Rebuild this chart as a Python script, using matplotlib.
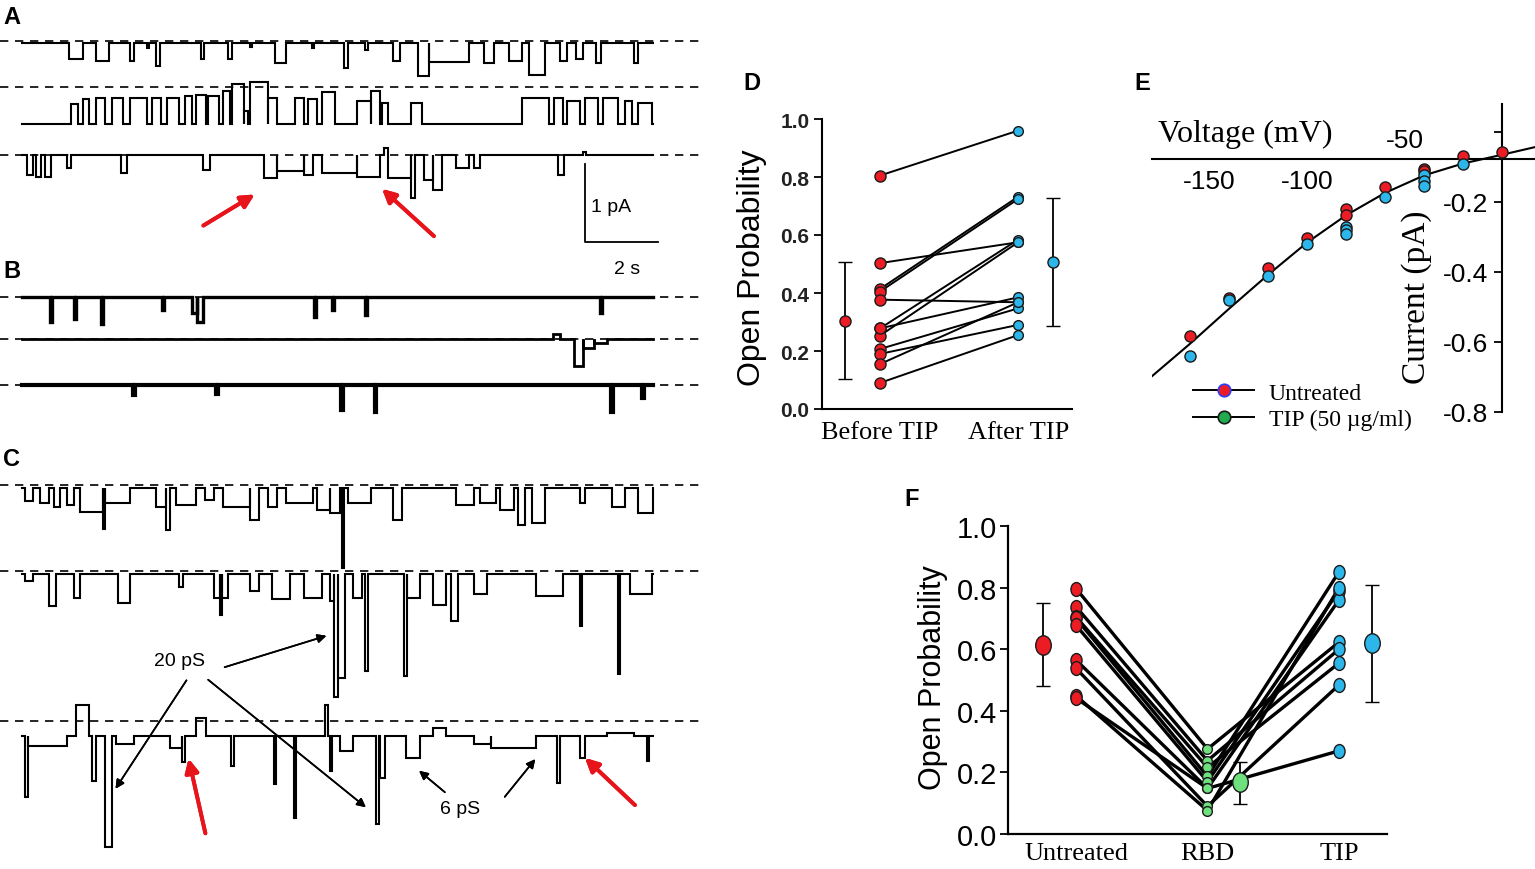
import numpy as np
import matplotlib
matplotlib.use("Agg")
import matplotlib.pyplot as plt
from matplotlib.lines import Line2D
from matplotlib.markers import MarkerStyle
from matplotlib.transforms import Affine2D

W, H = 1535, 870
SANS = "Liberation Sans"
SERIF = "Liberation Serif"
RED = "#ec1c24"
BLUE = "#2cb6ea"
GREEN = "#6ee07e"
EDGE = "#1a1a1a"

# ---- single-channel records: events as (start s, end s, level pA) ----
# closed level of each trace (pA, relative to its dashed line)
base_a = [-0.02, -0.47, 0.0]
base_b = [0.0, 0.0, 0.0]
base_c = [-0.04, -0.04, -0.19]

events_a1 = [(1.29, 1.66, -0.235), (2.03, 2.39, -0.256), (2.95, 3.07, -0.256),
             (3.43, 3.49, -0.09), (3.68, 3.78, -0.32), (4.90, 4.99, -0.235),
             (5.64, 5.76, -0.235), (6.25, 6.31, -0.08), (6.92, 7.23, -0.278),
             (7.95, 8.01, -0.09), (8.82, 8.92, -0.34), (9.40, 9.47, -0.11),
             (10.17, 10.35, -0.256), (10.84, 11.14, -0.45), (11.14, 12.25, -0.27),
             (12.67, 12.92, -0.28), (13.35, 13.71, -0.256), (13.90, 14.32, -0.43),
             (14.75, 14.94, -0.256), (15.18, 15.37, -0.235), (15.73, 15.85, -0.28),
             (16.77, 16.89, -0.28)]
events_a2 = [(1.35, 1.54, -0.22), (1.66, 1.84, -0.16), (2.03, 2.27, -0.14),
             (2.46, 2.76, -0.14), (2.95, 3.43, -0.14), (3.56, 3.80, -0.14),
             (3.98, 4.29, -0.14), (4.47, 4.66, -0.12), (4.78, 5.03, -0.10),
             (5.09, 5.39, -0.12), (5.52, 5.70, -0.05), (5.76, 6.07, 0.04),
             (6.07, 6.19, -0.31), (6.25, 6.74, 0.07), (6.74, 6.98, -0.14),
             (7.47, 7.72, -0.14), (7.84, 8.08, -0.16), (8.21, 8.57, -0.07),
             (9.19, 9.55, -0.18), (9.55, 9.80, -0.05), (9.86, 10.04, -0.20),
             (10.65, 10.96, -0.20), (13.71, 14.45, -0.14), (14.57, 14.81, -0.14),
             (14.94, 15.30, -0.18), (15.43, 15.79, -0.14), (15.92, 16.34, -0.14),
             (16.53, 16.71, -0.18), (16.89, 17.26, -0.20)]
events_a3 = [(0.13, 0.31, -0.26), (0.38, 0.52, -0.28), (0.62, 0.80, -0.28),
             (1.23, 1.35, -0.17), (2.70, 2.88, -0.235), (4.96, 5.15, -0.19),
             (6.62, 6.98, -0.30), (6.98, 7.72, -0.21), (7.72, 7.96, -0.26),
             (8.21, 9.19, -0.235), (9.19, 9.80, -0.28), (9.92, 10.02, 0.085),
             (10.04, 10.65, -0.30), (10.65, 10.78, -0.55), (11.02, 11.27, -0.32),
             (11.27, 11.51, -0.45), (11.88, 12.24, -0.17), (12.37, 12.55, -0.17),
             (14.69, 14.84, -0.26), (15.37, 15.45, 0.04)]

events_b1 = [(0.78, 0.83, -0.32), (1.43, 1.48, -0.28), (2.17, 2.22, -0.35),
             (3.84, 3.89, -0.17), (4.66, 4.80, -0.20), (4.80, 4.96, -0.32),
             (8.00, 8.05, -0.26), (8.49, 8.54, -0.17), (9.41, 9.46, -0.235),
             (15.83, 15.88, -0.21)]
events_b2 = [(14.55, 14.73, 0.06), (15.12, 15.36, -0.34), (15.36, 15.67, -0.11),
             (15.67, 16.04, -0.05)]
events_b3 = [(3.05, 3.10, -0.13), (5.31, 5.36, -0.11), (8.74, 8.79, -0.32),
             (9.66, 9.71, -0.34), (16.14, 16.20, -0.35), (17.00, 17.05, -0.17)]

events_c1 = [(0.07, 0.31, -0.21), (0.50, 0.74, -0.235), (0.87, 1.05, -0.28),
             (1.23, 1.42, -0.26), (1.60, 2.21, -0.34), (2.21, 2.28, -0.56),
             (2.28, 2.95, -0.235), (3.68, 3.95, -0.28), (3.95, 4.05, -0.58),
             (4.23, 4.78, -0.26), (5.02, 5.27, -0.19), (5.52, 6.25, -0.28),
             (6.25, 6.49, -0.45), (6.74, 6.98, -0.28), (7.23, 7.96, -0.235),
             (8.08, 8.45, -0.32), (8.45, 8.72, -0.36), (8.76, 8.83, -1.07),
             (8.94, 9.55, -0.235), (10.17, 10.41, -0.45), (11.88, 12.37, -0.26),
             (12.55, 12.98, -0.235), (13.10, 13.47, -0.32), (13.59, 13.77, -0.51),
             (13.96, 14.32, -0.49), (15.30, 15.43, -0.235), (16.16, 16.53, -0.28),
             (16.89, 17.30, -0.36)]
events_c2 = [(0.07, 0.31, -0.13), (0.74, 0.93, -0.45), (1.42, 1.60, -0.34),
             (2.64, 2.95, -0.41), (4.29, 4.41, -0.21), (5.27, 5.43, -0.34),
             (5.43, 5.49, -0.56), (5.49, 5.64, -0.34), (6.25, 6.49, -0.26),
             (6.86, 7.35, -0.36), (7.72, 8.21, -0.34), (8.45, 8.55, -0.38),
             (8.55, 8.67, -1.62), (8.67, 8.84, -1.37), (9.06, 9.31, -0.34),
             (9.40, 9.48, -1.28), (10.47, 10.55, -1.35), (10.55, 10.90, -0.34),
             (11.27, 11.63, -0.43), (11.76, 11.94, -0.64), (12.37, 12.73, -0.30),
             (14.08, 14.81, -0.32), (15.28, 15.35, -0.71), (16.32, 16.39, -1.32),
             (16.65, 17.26, -0.30)]
events_c3 = [(0.07, 0.16, -0.98), (0.16, 1.23, -0.32), (1.48, 1.84, 0.21),
             (1.91, 2.03, -0.77), (2.27, 2.46, -1.62), (2.58, 3.07, -0.30),
             (4.05, 4.39, -0.34), (4.39, 4.46, -0.53), (4.78, 5.03, 0.04),
             (5.73, 5.81, -0.58), (6.90, 6.97, -0.81), (7.45, 7.52, -1.24),
             (8.30, 8.38, 0.21), (8.43, 8.50, -0.64), (8.70, 9.06, -0.38),
             (9.71, 9.79, -1.32), (9.80, 9.94, -0.73), (10.53, 10.90, -0.47),
             (11.27, 11.63, -0.085), (12.37, 12.86, -0.30), (12.86, 14.08, -0.34),
             (14.67, 14.74, -0.79), (15.30, 15.43, -0.47), (16.04, 16.77, -0.15),
             (17.11, 17.19, -0.51)]

# ---- D: open probability before / after TIP ----
d_before = [0.805, 0.503, 0.414, 0.405, 0.377, 0.278, 0.253, 0.278, 0.207, 0.19, 0.155, 0.09]
d_after = [0.96, 0.575, 0.732, 0.724, 0.368, 0.584, 0.575, 0.385, 0.347, 0.29, 0.368, 0.255]
d_mean = [0.302, 0.506]
d_low = [0.103, 0.285]
d_high = [0.506, 0.728]
d_labels = ["Before TIP", "After TIP"]

# ---- E: I-V relation ----
e_volt_u = [-160, -140, -120, -100, -80, -80, -60, -40, -40, -20, 0]
e_cur_u = [-0.583, -0.474, -0.389, -0.303, -0.22, -0.237, -0.157, -0.105, -0.111, -0.068, -0.057]
e_volt_t = [-160, -140, -120, -100, -80, -80, -80, -60, -40, -40, -40, -20]
e_cur_t = [-0.64, -0.48, -0.41, -0.32, -0.27, -0.28, -0.29, -0.186, -0.123, -0.14, -0.154, -0.091]
e_volt_fit = [-180, -160, -140, -120, -100, -80, -60, -40, -20, 0, 17]
e_cur_fit = [-0.70, -0.605, -0.505, -0.408, -0.316, -0.238, -0.174, -0.124, -0.09, -0.065, -0.043]

# ---- F: untreated / RBD / TIP ----
f_untreated = [0.797, 0.738, 0.705, 0.700, 0.678, 0.565, 0.538, 0.449, 0.441]
f_rbd = [0.276, 0.238, 0.216, 0.187, 0.170, 0.148, 0.090, 0.076, 0.148]
f_tip = [0.623, 0.600, 0.555, 0.851, 0.790, 0.760, 0.484, 0.800, 0.270]
f_mean = [0.613, 0.169, 0.62]
f_low = [0.479, 0.097, 0.428]
f_high = [0.749, 0.234, 0.808]
f_labels = ["Untreated", "RBD", "TIP"]


def rect(l, t, r, b):
    return [l / W, (H - b) / H, (r - l) / W, (b - t) / H]


def fxy(x, y):
    return (x / W, 1 - y / H)


def step_trace(events, base, t_end=17.3):
    ts, ys = [0.0], [base]
    for t0, t1, lvl in sorted(events):
        ts += [t0, t0, t1, t1]
        ys += [base, lvl, lvl, base]
    ts.append(t_end)
    ys.append(base)
    return np.array(ts), np.array(ys)


fig = plt.figure(figsize=(W / 100, H / 100), dpi=100)

# ---------------- traces A, B, C ----------------
PX_PER_S, PX_PER_PA = 36.5, 78.0
ax_tr = fig.add_axes(rect(0, 0, 700, 870))
ax_tr.set_xlim(-22 / PX_PER_S, (700 - 22) / PX_PER_S)
ax_tr.set_ylim(-H / PX_PER_PA, 0)
ax_tr.axis("off")

rows = [(42, events_a1, base_a[0], 1.5), (88, events_a2, base_a[1], 1.5),
        (156, events_a3, base_a[2], 1.5),
        (298, events_b1, base_b[0], 2.4), (340, events_b2, base_b[1], 2.0),
        (386, events_b3, base_b[2], 3.0),
        (486, events_c1, base_c[0], 1.5), (572, events_c2, base_c[1], 1.5),
        (722, events_c3, base_c[2], 1.5)]
for y_px, ev, base, lw in rows:
    off = -y_px / PX_PER_PA
    ax_tr.axhline(off, color="k", lw=1.2, dashes=(5, 4))
    ts, ys = step_trace(ev, base)
    ax_tr.plot(ts, ys + off, color="k", lw=lw, solid_joinstyle="miter")

# scale bar: 2 s, 1 pA
bar_t0, bar_bottom = (585 - 22) / PX_PER_S, -243 / PX_PER_PA
ax_tr.plot([bar_t0, bar_t0, bar_t0 + 2], [bar_bottom + 1, bar_bottom, bar_bottom],
           color="k", lw=1.3)
fig.text(*fxy(591, 207), "1 pA", family=SANS, fontsize=14, va="center")
fig.text(*fxy(627, 270), "2 s", family=SANS, fontsize=14, ha="center", va="center")

red_arrow = dict(arrowstyle="-|>", color="#e8141c", lw=2.8, mutation_scale=20)
for tail, head in [((201, 228), (257, 194)), ((436, 239), (380, 188)),
                   ((206, 837), (188, 757)), ((637, 808), (583, 757))]:
    fig.add_artist(plt.annotate("", xy=fxy(*head), xytext=fxy(*tail),
                                xycoords="figure fraction", arrowprops=red_arrow))

blk_arrow = dict(arrowstyle="-|>", color="k", lw=1.2, mutation_scale=13)
for tail, head in [((222, 669), (329, 636)), ((188, 679), (114, 792)),
                   ((206, 679), (368, 810)), ((447, 795), (417, 770)),
                   ((503, 800), (537, 758))]:
    fig.add_artist(plt.annotate("", xy=fxy(*head), xytext=fxy(*tail),
                                xycoords="figure fraction", arrowprops=blk_arrow))
fig.text(*fxy(179, 662), "20 pS", family=SANS, fontsize=14, ha="center", va="center")
fig.text(*fxy(460, 810), "6 pS", family=SANS, fontsize=14, ha="center", va="center")

# panel letters
for lab, (x, y) in zip("ABCDEF", [(12, 18), (12, 272), (12, 460),
                                  (752, 84), (1142, 84), (912, 500)]):
    fig.text(*fxy(x, y), lab, family=SANS, fontsize=17, weight="bold",
             ha="center", va="center")

# ---------------- D ----------------
axd = fig.add_axes(rect(822, 120, 1072, 410))
for b, a in zip(d_before, d_after):
    axd.plot([0, 1], [b, a], color="k", lw=1.4, zorder=2)
axd.plot(np.zeros(len(d_before)), d_before, "o", ms=8, mfc=RED, mec=EDGE, mew=1, zorder=3)
axd.plot(np.ones(len(d_after)), d_after, "o", ms=7, mfc=BLUE, mec=EDGE, mew=1, zorder=3)
for x, m, lo, hi, c in zip([-0.25, 1.25], d_mean, d_low, d_high, [RED, BLUE]):
    axd.errorbar([x], [m], yerr=[[m - lo], [hi - m]], fmt="o", ms=8, mfc=c, mec=EDGE,
                 mew=1, ecolor="k", elinewidth=1.3, capsize=5, capthick=1.3)
axd.set_xlim(-0.42, 1.39)
axd.set_ylim(0, 1)
axd.set_xticks([0, 1])
axd.set_xticklabels(d_labels, family=SERIF, fontsize=19)
axd.set_yticks(np.arange(0, 1.01, 0.2))
axd.set_yticklabels([f"{v:.1f}" for v in np.arange(0, 1.01, 0.2)],
                    family=SANS, fontsize=15, weight="bold", color="#222")
axd.tick_params(axis="x", length=0, pad=9)
axd.tick_params(axis="y", length=6, width=1.3, pad=3)
for s in ["top", "right"]:
    axd.spines[s].set_visible(False)
for s in ["left", "bottom"]:
    axd.spines[s].set_linewidth(1.5)
fig.text(*fxy(752, 268), "Open Probability", family=SANS, fontsize=23,
         rotation=90, ha="center", va="center")

# ---------------- E ----------------
axe = fig.add_axes(rect(1152, 105, 1535, 413))
axe.plot(e_volt_fit, e_cur_fit, color="k", lw=1.5, zorder=2)
axe.plot(e_volt_u, e_cur_u, "o", ms=8, mfc=RED, mec=EDGE, mew=1, zorder=3)
axe.plot(e_volt_t, e_cur_t, "o", ms=8, mfc=BLUE, mec=EDGE, mew=1, zorder=3)
axe.set_xlim(-179.5, 16.9)
axe.set_ylim(-0.8, 0.08)
axe.spines["left"].set_position(("data", 0))
axe.spines["bottom"].set_position(("data", -0.077))
for s in ["top", "right"]:
    axe.spines[s].set_visible(False)
for s in ["left", "bottom"]:
    axe.spines[s].set_linewidth(1.5)
axe.set_xticks([])
axe.set_yticks([0, -0.2, -0.4, -0.6, -0.8])
axe.set_yticklabels(["", "-0.2", "-0.4", "-0.6", "-0.8"], family=SANS, fontsize=19)
axe.tick_params(axis="y", length=6, width=1.3, pad=4)
for v in [-150, -100]:
    axe.annotate(str(v), xy=(v, -0.077), xytext=(0, -7), textcoords="offset points",
                 ha="center", va="top", family=SANS, fontsize=19)
axe.annotate("-50", xy=(-50, -0.077), xytext=(0, 5), textcoords="offset points",
             ha="center", va="bottom", family=SANS, fontsize=19)
fig.text(*fxy(1245, 134), "Voltage (mV)", family=SERIF, fontsize=23,
         ha="center", va="center")
fig.text(*fxy(1417, 297), "Current (pA)", family=SERIF, fontsize=24,
         rotation=90, ha="center", va="center")
handles = [Line2D([], [], color="k", lw=1.4, marker="o", ms=9, mfc=RED, mec="#2a3cff", mew=1.2),
           Line2D([], [], color="k", lw=1.4, marker="o", ms=9, mfc="#22aa4e", mec=EDGE, mew=1.2)]
fig.legend(handles, ["Untreated", "TIP (50 \u00b5g/ml)"], loc="upper left",
           bbox_to_anchor=fxy(1193, 383), frameon=False,
           prop={"family": SERIF, "size": 17}, handlelength=2.6, handletextpad=0.6,
           labelspacing=0.2, borderpad=0, borderaxespad=0)

# ---------------- F ----------------
ell = MarkerStyle("o", transform=Affine2D().scale(0.8, 1.0))
axf = fig.add_axes(rect(1008, 527, 1387, 835))
for u, r, t in zip(f_untreated, f_rbd, f_tip):
    axf.plot([0, 1, 2], [u, r, t], color="k", lw=2.4, zorder=2)
n = len(f_untreated)
axf.plot(np.zeros(n), f_untreated, ls="none", marker=ell, ms=10, mfc=RED, mec=EDGE, mew=1, zorder=3)
axf.plot(np.ones(n), f_rbd, ls="none", marker="o", ms=7, mfc=GREEN, mec=EDGE, mew=1, zorder=3)
axf.plot(np.full(n, 2), f_tip, ls="none", marker=ell, ms=10, mfc=BLUE, mec=EDGE, mew=1, zorder=3)
for x, m, lo, hi, c in zip([-0.25, 1.25, 2.25], f_mean, f_low, f_high, [RED, GREEN, BLUE]):
    axf.errorbar([x], [m], yerr=[[m - lo], [hi - m]], ls="none", marker=ell, ms=14,
                 mfc=c, mec=EDGE, mew=1, ecolor="k", elinewidth=1.3, capsize=5,
                 capthick=1.3, zorder=4)
axf.set_xlim(-0.517, 2.365)
axf.set_ylim(0, 1)
axf.set_xticks([0, 1, 2])
axf.set_xticklabels(f_labels, family=SERIF, fontsize=19)
axf.set_yticks(np.arange(0, 1.01, 0.2))
axf.set_yticklabels([f"{v:.1f}" for v in np.arange(0, 1.01, 0.2)], family=SANS, fontsize=21)
axf.tick_params(axis="x", length=0, pad=6)
axf.tick_params(axis="y", length=6, width=1.3, pad=2)
for s in ["top", "right"]:
    axf.spines[s].set_visible(False)
for s in ["left", "bottom"]:
    axf.spines[s].set_linewidth(1.6)
fig.text(*fxy(933, 678), "Open Probability", family=SANS, fontsize=22,
         rotation=90, ha="center", va="center")

fig.savefig("out.png", dpi=100)
